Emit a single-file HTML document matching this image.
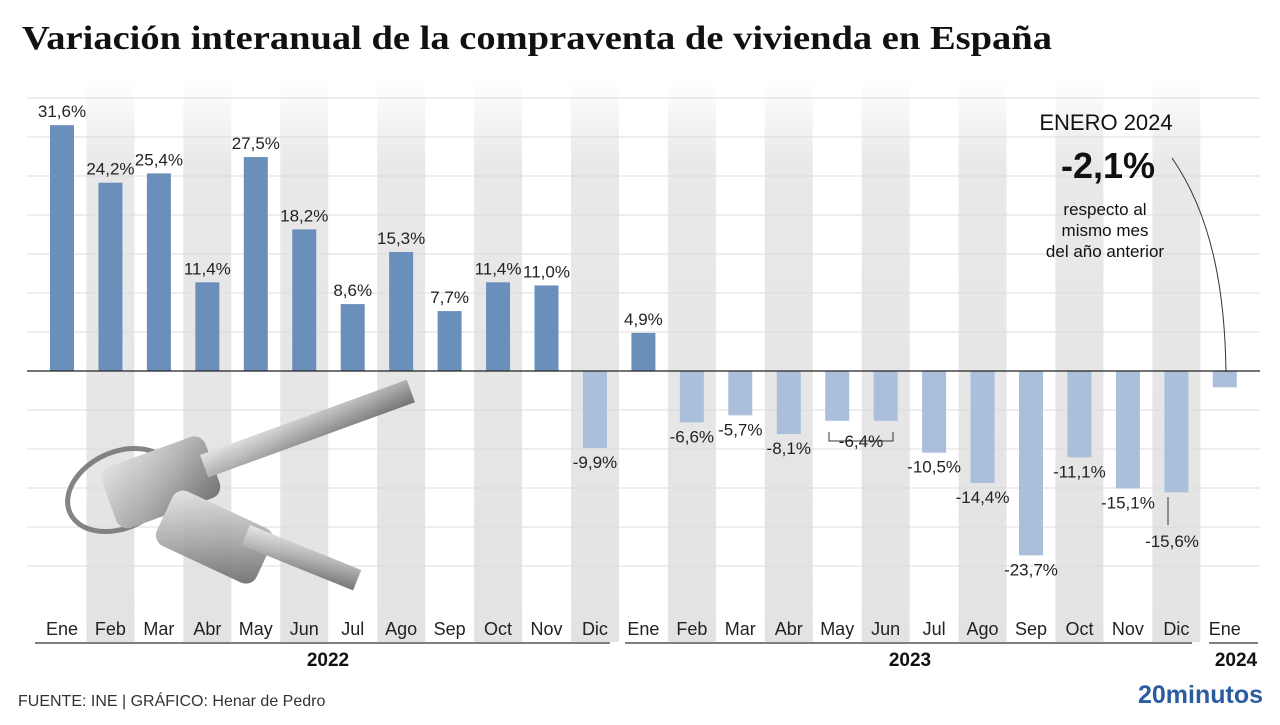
<!DOCTYPE html>
<html><head><meta charset="utf-8"><style>
body{margin:0;background:#fff;width:1280px;height:720px;overflow:hidden;font-family:"Liberation Sans",sans-serif}
</style></head><body>
<svg width="1280" height="720" xmlns="http://www.w3.org/2000/svg" font-family="Liberation Sans, sans-serif">
<defs>
<linearGradient id="g" x1="0" y1="0" x2="0" y2="1"><stop offset="0" stop-color="#e6e6e6" stop-opacity="0"/><stop offset="0.15" stop-color="#e6e6e6" stop-opacity="0.9"/><stop offset="1" stop-color="#e3e3e3"/></linearGradient>
<linearGradient id="k" x1="0" y1="0" x2="1" y2="1"><stop offset="0" stop-color="#e5e5e5"/><stop offset="0.5" stop-color="#aaa"/><stop offset="1" stop-color="#666"/></linearGradient>
</defs>
<text x="22" y="49" font-family="Liberation Serif, serif" font-weight="bold" font-size="34" fill="#111" textLength="1030" lengthAdjust="spacingAndGlyphs">Variación interanual de la compraventa de vivienda en España</text>
<g id="cols"></g>
<g stroke="#dcdcdc" stroke-width="1">
<line x1="27" x2="1260" y1="98" y2="98"/><line x1="27" x2="1260" y1="137" y2="137"/><line x1="27" x2="1260" y1="176" y2="176"/><line x1="27" x2="1260" y1="215" y2="215"/><line x1="27" x2="1260" y1="254" y2="254"/><line x1="27" x2="1260" y1="293" y2="293"/><line x1="27" x2="1260" y1="332" y2="332"/><line x1="27" x2="1260" y1="410" y2="410"/><line x1="27" x2="1260" y1="449" y2="449"/><line x1="27" x2="1260" y1="488" y2="488"/><line x1="27" x2="1260" y1="527" y2="527"/><line x1="27" x2="1260" y1="566" y2="566"/>
</g>
<g id="bars"></g>
<line x1="27" x2="1260" y1="371" y2="371" stroke="#222" stroke-width="1.2"/>
<g opacity="0.9">
<ellipse cx="120" cy="490" rx="55" ry="38" fill="none" stroke="#777" stroke-width="5" transform="rotate(-25 120 490)"/>
<rect x="105" y="450" width="110" height="65" rx="12" fill="url(#k)" transform="rotate(-20 160 480)"/>
<rect x="200" y="455" width="220" height="24" fill="url(#k)" transform="rotate(-20 200 455)"/>
<rect x="160" y="505" width="110" height="60" rx="12" fill="url(#k)" transform="rotate(25 210 535)"/>
<rect x="250" y="525" width="120" height="22" fill="url(#k)" transform="rotate(22 250 525)"/>
</g>
<g stroke="#333" stroke-width="1" fill="none">
<polyline points="829,432 829,441 893,441 893,432"/>
<line x1="1168" y1="497" x2="1168" y2="525"/>
<path d="M1172,158 C1215,220 1225,300 1226,372"/>
</g>
<g id="labels" font-size="17" fill="#222" text-anchor="middle"></g>
<g font-size="22" fill="#111" text-anchor="middle">
<text x="1106" y="130">ENERO 2024</text>
<text x="1108" y="178" font-weight="bold" font-size="36">-2,1%</text>
<text x="1105" y="215" font-size="17">respecto al</text>
<text x="1105" y="236" font-size="17">mismo mes</text>
<text x="1105" y="257" font-size="17">del año anterior</text>
</g>
<g stroke="#333" stroke-width="1.2"><line x1="35" x2="610" y1="643" y2="643"/><line x1="625" x2="1192" y1="643" y2="643"/><line x1="1209" x2="1258" y1="643" y2="643"/></g>
<g font-size="19" font-weight="bold" fill="#111" text-anchor="middle"><text x="328" y="666">2022</text><text x="910" y="666">2023</text><text x="1236" y="666">2024</text></g>
<text x="18" y="706" font-size="16" fill="#333">FUENTE: INE  |  GRÁFICO: Henar de Pedro</text>
<text x="1263" y="703" font-size="25" font-weight="bold" fill="#2a5d9f" text-anchor="end">20minutos</text>
</svg>
<script>
var v=[31.6,24.2,25.4,11.4,27.5,18.2,8.6,15.3,7.7,11.4,11.0,-9.9,4.9,-6.6,-5.7,-8.1,-6.4,-6.4,-10.5,-14.4,-23.7,-11.1,-15.1,-15.6,-2.1];
var m=["Ene","Feb","Mar","Abr","May","Jun","Jul","Ago","Sep","Oct","Nov","Dic","Ene","Feb","Mar","Abr","May","Jun","Jul","Ago","Sep","Oct","Nov","Dic","Ene"];
var ns="http://www.w3.org/2000/svg",c=document.getElementById("cols"),b=document.getElementById("bars"),l=document.getElementById("labels");
function el(p,t,a,tx){var e=document.createElementNS(ns,t);for(var k in a)e.setAttribute(k,a[k]);if(tx)e.textContent=tx;p.appendChild(e);return e;}
for(var i=0;i<25;i++){var x=62+i*48.45;
if(i%2==1)el(c,"rect",{x:x-24,y:80,width:48,height:562,fill:"url(#g)"});
var h=v[i]*7.78,y=v[i]>=0?371-h:371;
el(b,"rect",{x:x-12,y:y,width:24,height:Math.abs(h),fill:v[i]>=0?"#6a8fbb":"#a9bfdc"});
el(l,"text",{x:x,y:635,"font-size":18},m[i]);
if(i==24)continue;
var s=v[i].toFixed(1).replace(".",",")+"%";
if(i==16){el(l,"text",{x:861,y:447},s);continue}
if(i==17)continue;
if(i==23){el(l,"text",{x:1172,y:547},s);continue}
if(v[i]>=0)el(l,"text",{x:x,y:371-h-8},s);else el(l,"text",{x:x,y:371-h+20},s);
}
</script>
</body></html>
